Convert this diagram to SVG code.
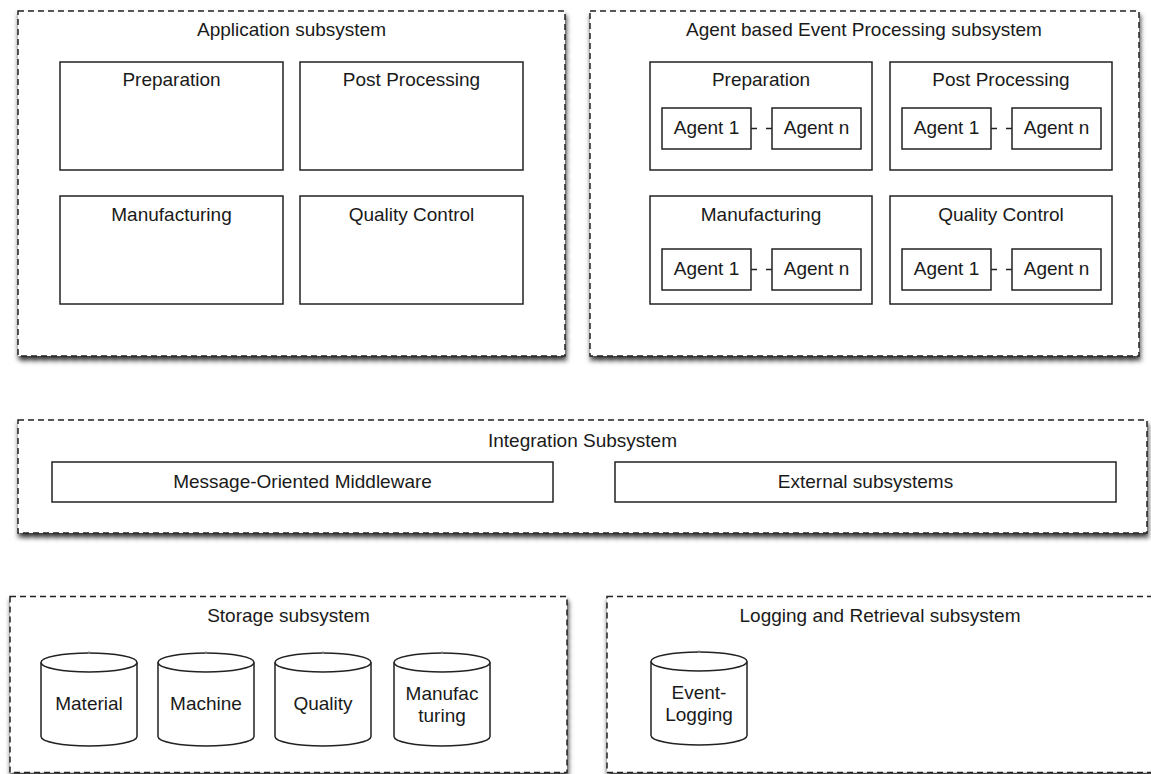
<svg xmlns="http://www.w3.org/2000/svg" width="1151" height="774" viewBox="0 0 1151 774">
  <defs>
    <filter id="shadow" x="-5%" y="-10%" width="110%" height="130%">
      <feGaussianBlur in="SourceAlpha" stdDeviation="2.5"/>
      <feOffset dx="1" dy="4" result="blur"/>
      <feFlood flood-color="#000" flood-opacity="0.8"/>
      <feComposite in2="blur" operator="in"/>
      <feMerge>
        <feMergeNode/>
        <feMergeNode in="SourceGraphic"/>
      </feMerge>
    </filter>
    <!-- database cylinder, 96 wide, 93 tall -->
    <g id="cyl">
      <path d="M0,9.5 A48,9.5 0 0 1 96,9.5 L96,83.5 A48,9.5 0 0 1 0,83.5 Z" fill="#fff" stroke="#222" stroke-width="1.5"/>
      <path d="M0,9.5 A48,9.5 0 0 0 96,9.5" fill="none" stroke="#222" stroke-width="1.5"/>
      <line x1="48" y1="-2" x2="48" y2="1" stroke="#999" stroke-width="1"/>
    </g>
  </defs>
  <style>
    .sub { fill:#fff; stroke:#222; stroke-width:1.5; stroke-dasharray:6 4; }
    .box { fill:#fff; stroke:#222; stroke-width:1.5; }
    .t { font-family:"Liberation Sans", Arial, Helvetica, sans-serif; font-size:19px; fill:#1a1a1a; text-anchor:middle; }
    .link { stroke:#222; stroke-width:1.3; stroke-dasharray:6 9; fill:none; }
  </style>
  <rect width="1151" height="774" fill="#fff"/>

  <!-- Application subsystem -->
  <g id="application-subsystem">
    <rect class="sub" x="18" y="11" width="547" height="345" filter="url(#shadow)"/>
    <text class="t" x="291.5" y="36">Application subsystem</text>
    <g id="app-preparation">
      <rect class="box" x="60" y="62" width="223" height="108"/>
      <text class="t" x="171.5" y="86">Preparation</text>
    </g>
    <g id="app-post-processing">
      <rect class="box" x="300" y="62" width="223" height="108"/>
      <text class="t" x="411.5" y="86">Post Processing</text>
    </g>
    <g id="app-manufacturing">
      <rect class="box" x="60" y="196" width="223" height="108"/>
      <text class="t" x="171.5" y="221">Manufacturing</text>
    </g>
    <g id="app-quality-control">
      <rect class="box" x="300" y="196" width="223" height="108"/>
      <text class="t" x="411.5" y="221">Quality Control</text>
    </g>
  </g>

  <!-- Agent based Event Processing subsystem -->
  <g id="agent-subsystem">
    <rect class="sub" x="590" y="11" width="549" height="345" filter="url(#shadow)"/>
    <text class="t" x="864" y="36">Agent based Event Processing subsystem</text>
    <g id="agent-preparation">
      <rect class="box" x="650" y="62" width="222" height="108"/>
      <text class="t" x="761" y="86">Preparation</text>
      <rect class="box" x="662" y="108" width="89" height="41"/>
      <text class="t" x="706.5" y="134">Agent 1</text>
      <rect class="box" x="772" y="108" width="89" height="41"/>
      <text class="t" x="816.5" y="134">Agent n</text>
    </g>
    <g id="agent-post-processing">
      <rect class="box" x="890" y="62" width="222" height="108"/>
      <text class="t" x="1001" y="86">Post Processing</text>
      <rect class="box" x="902" y="108" width="89" height="41"/>
      <text class="t" x="946.5" y="134">Agent 1</text>
      <rect class="box" x="1012" y="108" width="89" height="41"/>
      <text class="t" x="1056.5" y="134">Agent n</text>
    </g>
    <g id="agent-manufacturing">
      <rect class="box" x="650" y="196" width="222" height="108"/>
      <text class="t" x="761" y="221">Manufacturing</text>
      <rect class="box" x="662" y="249" width="89" height="41"/>
      <text class="t" x="706.5" y="275">Agent 1</text>
      <rect class="box" x="772" y="249" width="89" height="41"/>
      <text class="t" x="816.5" y="275">Agent n</text>
    </g>
    <g id="agent-quality-control">
      <rect class="box" x="890" y="196" width="222" height="108"/>
      <text class="t" x="1001" y="221">Quality Control</text>
      <rect class="box" x="902" y="249" width="89" height="41"/>
      <text class="t" x="946.5" y="275">Agent 1</text>
      <rect class="box" x="1012" y="249" width="89" height="41"/>
      <text class="t" x="1056.5" y="275">Agent n</text>
    </g>
  </g>

  <!-- Integration Subsystem -->
  <g id="integration-subsystem">
    <rect class="sub" x="18" y="420" width="1129" height="113" filter="url(#shadow)"/>
    <text class="t" x="582.5" y="447">Integration Subsystem</text>
    <g id="middleware">
      <rect class="box" x="52" y="462" width="501" height="40"/>
      <text class="t" x="302.5" y="488">Message-Oriented Middleware</text>
    </g>
    <g id="external-subsystems">
      <rect class="box" x="615" y="462" width="501" height="40"/>
      <text class="t" x="865.5" y="488">External subsystems</text>
    </g>
  </g>

  <!-- Storage subsystem -->
  <g id="storage-subsystem">
    <rect class="sub" x="10" y="596.5" width="557" height="176" filter="url(#shadow)"/>
    <text class="t" x="288.5" y="622">Storage subsystem</text>
    <g id="db-material">
      <use href="#cyl" x="41" y="653"/>
      <text class="t" x="89" y="710">Material</text>
    </g>
    <g id="db-machine">
      <use href="#cyl" x="158" y="653"/>
      <text class="t" x="206" y="710">Machine</text>
    </g>
    <g id="db-quality">
      <use href="#cyl" x="275" y="653"/>
      <text class="t" x="323" y="710">Quality</text>
    </g>
    <g id="db-manufacturing">
      <use href="#cyl" x="394" y="653"/>
      <text class="t" x="442" y="700">Manufac</text>
      <text class="t" x="442" y="722">turing</text>
    </g>
  </g>

  <!-- Logging and Retrieval subsystem -->
  <g id="logging-subsystem">
    <rect class="sub" x="607" y="596.5" width="560" height="176" filter="url(#shadow)"/>
    <text class="t" x="880" y="622">Logging and Retrieval subsystem</text>
    <g id="db-event-logging">
      <use href="#cyl" x="651" y="652"/>
      <text class="t" x="699" y="699">Event-</text>
      <text class="t" x="699" y="721">Logging</text>
    </g>
  </g>

  <!-- links between agents -->
  <g id="connectors">
    <line class="link" x1="751" y1="128.5" x2="772" y2="128.5"/>
    <line class="link" x1="991" y1="128.5" x2="1012" y2="128.5"/>
    <line class="link" x1="751" y1="269.5" x2="772" y2="269.5"/>
    <line class="link" x1="991" y1="269.5" x2="1012" y2="269.5"/>
  </g>
</svg>
